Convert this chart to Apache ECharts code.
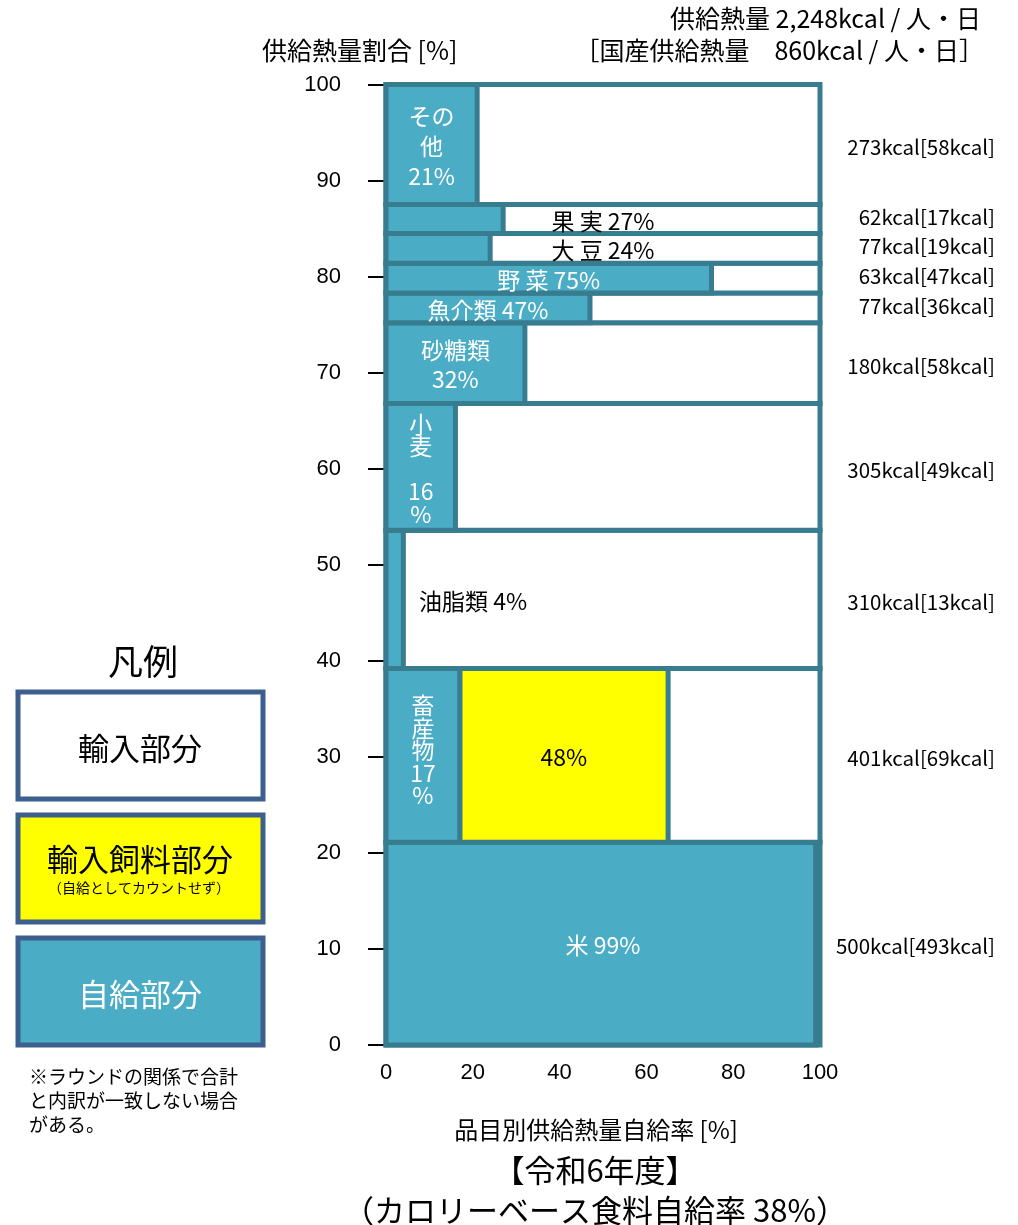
<!DOCTYPE html>
<html><head><meta charset="utf-8">
<script src="https://cdn.jsdelivr.net/npm/echarts@6/dist/echarts.min.js"></script>
<style>html,body{margin:0;padding:0;background:#fff}#c{width:1018px;height:1225px}</style>
</head><body><div id="c"></div>
<script>
// ---- data ----
const items = ['米','畜産物','油脂類','小麦','砂糖類','魚介類','野菜','大豆','果実','その他'];
const shares = [21.1, 18.1, 14.4, 13.2, 8.4, 3.1, 3.1, 3.1, 3.0, 12.5]; // 供給熱量割合 (band heights, %)
const rates = [99, 17, 4, 16, 32, 47, 75, 24, 27, 21];                  // 品目別自給率 (%)
const feedRates = [0, 48, 0, 0, 0, 0, 0, 0, 0, 0];                       // 輸入飼料部分 (%)
const kcal = [500, 401, 310, 305, 180, 77, 63, 77, 62, 273];
const domesticKcal = [493, 69, 13, 49, 58, 36, 47, 19, 17, 58];
const xTicks = [0, 20, 40, 60, 80, 100];
const yTicks = [0, 10, 20, 30, 40, 50, 60, 70, 80, 90, 100];
const totalKcalText = '2,248';
const domesticTotalText = '860';
const overallRate = 38;
const fiscalYear = '令和6年度';

// ---- styles ----
const FRAME = '#387C90';
const TEAL = '#4BACC6';
const YELLOW = '#FFFF00';
const LEGEND_BORDER = '#3D5F8D';
const FONT = '"Noto Sans CJK JP", "Noto Sans", sans-serif';
const NUMFONT = '"Liberation Sans", Arial, sans-serif';
const labelMode = ['band','vertical','left','vertical2','stack','inline','inline','band','band','stack'];

function spaced(name){ return name.length === 2 ? name[0] + ' ' + name[1] : name; }
function labelText(i){
  const n = items[i], r = rates[i];
  switch(labelMode[i]){
    case 'vertical': return n.split('').join('\n') + '\n' + r + '\n%';
    case 'vertical2': return n.split('').join('\n') + '\n\n' + r + '\n%';
    case 'stack': return (n === 'その他' ? 'その\n他' : n) + '\n' + r + '%';
    case 'left': return n + ' ' + r + '%';
    default: return spaced(n) + ' ' + r + '%';
  }
}

// cumulative bands
const bandData = [];
let acc = 0;
for (let i = 0; i < items.length; i++) {
  bandData.push([acc, acc + shares[i], rates[i], feedRates[i], i]);
  acc += shares[i];
}

const chart = echarts.init(document.getElementById('c'), null, {renderer: 'canvas'});

const option = {
  backgroundColor: '#fff',
  animation: false,
  grid: {left: 386, right: 198, top: 84.5, bottom: 180},
  xAxis: {
    type: 'value', min: 0, max: 100, interval: 20,
    axisLine: {show: false}, axisTick: {show: false}, splitLine: {show: false},
    axisLabel: {color: '#000', fontSize: 22, fontFamily: NUMFONT, margin: 17}
  },
  yAxis: {
    type: 'value', min: 0, max: 100, interval: 10,
    axisLine: {show: false}, splitLine: {show: false},
    axisTick: {show: true, length: 18, lineStyle: {color: '#000', width: 2}},
    axisLabel: {color: '#000', fontSize: 22, fontFamily: NUMFONT, margin: 45}
  },
  series: [
    {
      type: 'custom', z: 2, clip: false,
      data: bandData,
      renderItem: function(params, api){
        const y0 = api.value(0), y1 = api.value(1), rate = api.value(2), feed = api.value(3);
        const a = api.coord([0, y1]), b = api.coord([100, y0]);
        const t = api.coord([rate, y0]);
        const f = api.coord([rate + feed, y0]);
        const style = {stroke: FRAME, lineWidth: 5};
        const children = [
          {type: 'rect', shape: {x: a[0], y: a[1], width: b[0]-a[0], height: b[1]-a[1]}, style: Object.assign({fill: '#fff'}, style)}
        ];
        if (feed > 0) {
          children.push({type: 'rect', shape: {x: t[0], y: a[1], width: f[0]-t[0], height: b[1]-a[1]}, style: Object.assign({fill: YELLOW}, style)});
        }
        children.push({type: 'rect', shape: {x: a[0], y: a[1], width: t[0]-a[0], height: b[1]-a[1]}, style: Object.assign({fill: TEAL}, style)});
        return {type: 'group', children: children};
      }
    },
    {
      type: 'custom', z: 5, clip: false,
      data: bandData,
      renderItem: function(params, api){
        const i = api.value(4);
        const y0 = api.value(0), y1 = api.value(1), rate = api.value(2), feed = api.value(3);
        const ym = (y0 + y1) / 2;
        const mode = labelMode[i];
        const children = [];
        let x, color = '#fff', align = 'center', lh = 24;
        if (mode === 'band') { x = api.coord([50, ym])[0]; color = rate >= 50 ? '#fff' : '#000'; }
        else if (mode === 'left') { x = api.coord([7.6, ym])[0]; color = '#000'; align = 'left'; }
        else { x = api.coord([rate / 2, ym])[0]; }
        if (mode === 'stack') lh = (i === items.length - 1) ? 30 : 29;
        if (mode === 'vertical' || mode === 'vertical2') lh = 22.5;
        const p = api.coord([0, ym]);
        let dy = 2;
        if (mode === 'vertical') dy = -5;
        children.push({type: 'text', x: x, y: p[1] + dy, style: {text: labelText(i), fill: color, fontSize: 23, fontFamily: FONT, align: align, verticalAlign: 'middle', lineHeight: lh}});
        if (feed > 0) {
          const fx = api.coord([rate + feed / 2, ym]);
          children.push({type: 'text', x: fx[0], y: fx[1] + 2, style: {text: feed + '%', fill: '#000', fontSize: 23, fontFamily: FONT, align: 'center', verticalAlign: 'middle'}});
        }
        const r = api.coord([100, ym]);
        const small = (y1 - y0) < 5;
        children.push({type: 'text', x: r[0] + 175, y: r[1] + (small ? -2 : 3), style: {text: kcal[i] + 'kcal[' + domesticKcal[i] + 'kcal]', fill: '#000', fontSize: 20.5, fontFamily: FONT, align: 'right', verticalAlign: 'middle'}});
        return {type: 'group', children: children};
      }
    }
  ],
  graphic: [
    {type: 'text', x: 262, y: 50, style: {text: '供給熱量割合 [%]', fontSize: 25, fontFamily: FONT, fill: '#000', verticalAlign: 'middle'}},
    {type: 'text', x: 981, y: 18, style: {text: '供給熱量 ' + totalKcalText + 'kcal / 人・日', fontSize: 25, fontFamily: FONT, fill: '#000', align: 'right', verticalAlign: 'middle'}},
    {type: 'text', x: 984, y: 50, style: {text: '［国産供給熱量　' + domesticTotalText + 'kcal / 人・日］', fontSize: 25, fontFamily: FONT, fill: '#000', align: 'right', verticalAlign: 'middle'}},
    {type: 'text', x: 596, y: 1130, style: {text: '品目別供給熱量自給率 [%]', fontSize: 24, fontFamily: FONT, fill: '#000', align: 'center', verticalAlign: 'middle'}},
    {type: 'text', x: 595, y: 1170, style: {text: '【' + fiscalYear + '】', fontSize: 31, fontFamily: FONT, fill: '#000', align: 'center', verticalAlign: 'middle'}},
    {type: 'text', x: 595, y: 1210, style: {text: '（カロリーベース食料自給率 ' + overallRate + '%）', fontSize: 31, fontFamily: FONT, fill: '#000', align: 'center', verticalAlign: 'middle'}},
    // legend
    {type: 'text', x: 143, y: 662, style: {text: '凡例', fontSize: 35, fontFamily: FONT, fill: '#000', align: 'center', verticalAlign: 'middle'}},
    {type: 'rect', shape: {x: 18, y: 692, width: 245, height: 107}, style: {fill: '#fff', stroke: LEGEND_BORDER, lineWidth: 5}},
    {type: 'text', x: 140, y: 748, style: {text: '輸入部分', fontSize: 31, fontFamily: FONT, fill: '#000', align: 'center', verticalAlign: 'middle'}},
    {type: 'rect', shape: {x: 18, y: 815, width: 245, height: 107}, style: {fill: YELLOW, stroke: LEGEND_BORDER, lineWidth: 5}},
    {type: 'text', x: 140, y: 859, style: {text: '輸入飼料部分', fontSize: 31, fontFamily: FONT, fill: '#000', align: 'center', verticalAlign: 'middle'}},
    {type: 'text', x: 139, y: 888, style: {text: '（自給としてカウントせず）', fontSize: 14, fontFamily: FONT, fill: '#000', align: 'center', verticalAlign: 'middle'}},
    {type: 'rect', shape: {x: 18, y: 938, width: 245, height: 107}, style: {fill: TEAL, stroke: LEGEND_BORDER, lineWidth: 5}},
    {type: 'text', x: 140, y: 994, style: {text: '自給部分', fontSize: 31, fontFamily: FONT, fill: '#fff', align: 'center', verticalAlign: 'middle'}},
    {type: 'text', left: 29, top: 1065, style: {text: '※ラウンドの関係で合計\nと内訳が一致しない場合\nがある。', fontSize: 19, lineHeight: 24, fontFamily: FONT, fill: '#000'}}
  ]
};
chart.setOption(option);
</script>
</body></html>
